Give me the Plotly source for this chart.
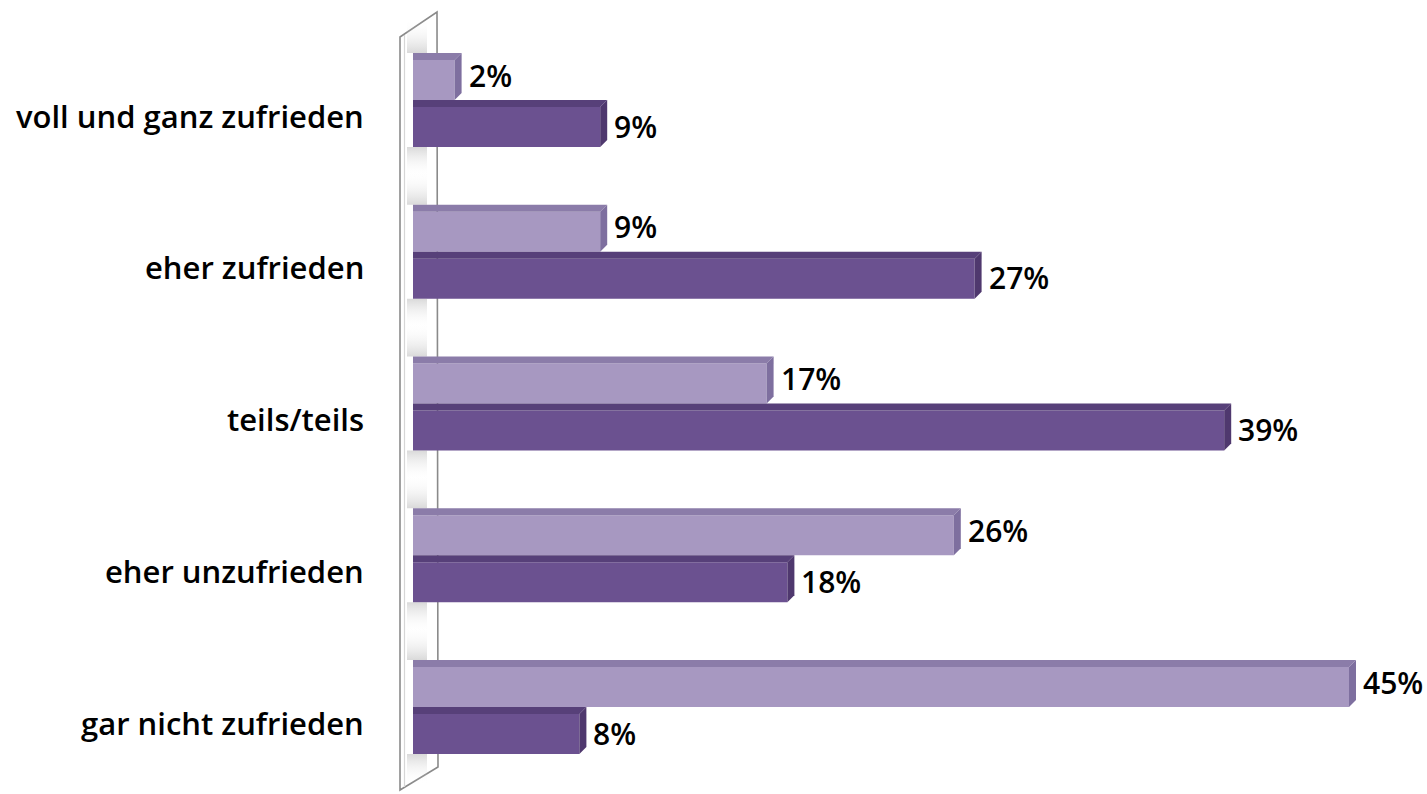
import plotly.graph_objects as go

# Survey answers (top to bottom) and the two series in percent
categories = ["voll und ganz zufrieden", "eher zufrieden", "teils/teils",
              "eher unzufrieden", "gar nicht zufrieden"]
series_light = [2, 9, 17, 26, 45]
series_dark = [9, 27, 39, 18, 8]

W, H = 1427, 794
PX_PER_PCT = 20.8      # horizontal scale
X_ORIGIN = 413         # pixel column of 0 %
ROW = 151.75           # pixels between category rows
Y_FIRST = 103.5        # pixel row of first category centre


def xd(px):
    return (px - X_ORIGIN) / PX_PER_PCT


def yd(py):
    return (py - Y_FIRST) / ROW


LIGHT = dict(front="#a798c1", top="#8b7ca9", side="#7e6f9f")
DARK = dict(front="#6b5190", top="#574079", side="#4f386e")

FRONT_H = 40 / ROW
GAP = 3.5 / ROW
DX = 7 / PX_PER_PCT
DY = 7 / ROW

pos = list(range(len(categories)))

fig = go.Figure()

# ---- back wall (3D panel on the left) ----
wall = [(400, 37), (437, 12), (438, 767), (400, 790)]
path = "M " + " L ".join(f"{xd(a)},{yd(b)}" for a, b in wall) + " Z"
shapes = [dict(type="path", path=path, xref="x", yref="y", layer="below",
               fillcolor="#ffffff", line=dict(color="#8a8a8a", width=1.6))]
shapes.append(dict(type="line", xref="x", yref="y", layer="below",
                   x0=xd(404.5), x1=xd(404.5), y0=yd(35), y1=yd(787),
                   line=dict(color="#d6d6d6", width=1.2)))

# soft shading on the wall around each pair of bars
SHADE = "rgba(150,150,150,0.36)"
CLEAR = "rgba(255,255,255,0)"
for p in pos:
    c_px = Y_FIRST + p * ROW
    top_px = c_px - 43.5 - 7
    bot_px = c_px + 43.5
    for (ya, yb, fade_up) in [(top_px - 34, top_px, True), (bot_px, bot_px + 30, False)]:
        if yb > H - 10:
            continue
        xs = [xd(407), xd(427), xd(427), xd(407), xd(407)]
        ys = [yd(ya), yd(ya), yd(yb), yd(yb), yd(ya)]
        fig.add_trace(go.Scatter(
            x=xs, y=ys, mode="lines", fill="toself", line=dict(width=0),
            hoverinfo="skip", showlegend=False,
            fillgradient=dict(type="vertical", start=yd(ya), stop=yd(yb),
                              colorscale=[[0, CLEAR if fade_up else SHADE],
                                          [1, SHADE if fade_up else CLEAR]])))

# ---- bar front faces ----
fig.add_trace(go.Bar(x=series_light, y=pos, orientation="h", width=FRONT_H,
                     offset=-(43.5 / ROW), marker=dict(color=LIGHT["front"], line=dict(width=0)),
                     showlegend=False, hoverinfo="x"))
fig.add_trace(go.Bar(x=series_dark, y=pos, orientation="h", width=FRONT_H,
                     offset=GAP, marker=dict(color=DARK["front"], line=dict(width=0)),
                     showlegend=False, hoverinfo="x"))


def faces(v, y_top, y_bot, col):
    top = (f"M 0,{y_top} L {v},{y_top} L {v + DX},{y_top - DY} "
           f"L 0,{y_top - DY} Z")
    side = (f"M {v},{y_top} L {v + DX},{y_top - DY} L {v + DX},{y_bot - DY} "
            f"L {v},{y_bot} Z")
    return [dict(type="path", path=top, xref="x", yref="y", layer="above",
                 fillcolor=col["top"], line=dict(width=0)),
            dict(type="path", path=side, xref="x", yref="y", layer="above",
                 fillcolor=col["side"], line=dict(width=0))]


annotations = []
label_font = dict(family="'Open Sans', 'Noto Sans', sans-serif", size=31,
                  color="#000000", weight=600)
value_font = dict(family="'Open Sans', 'Noto Sans', sans-serif", size=30,
                  color="#000000", weight=600)

for p, lv, dv in zip(pos, series_light, series_dark):
    l_top, l_bot = p - 43.5 / ROW, p - GAP
    d_top, d_bot = p + GAP, p + 43.5 / ROW
    shapes += faces(lv, l_top, l_bot, LIGHT)
    shapes += faces(dv, d_top, d_bot, DARK)
    for v, yt, yb, ys in [(lv, l_top, l_bot, 5), (dv, d_top, d_bot, 1)]:
        annotations.append(dict(x=v, y=(yt + yb) / 2, xref="x", yref="y",
                                text=f"{v}%", showarrow=False, xanchor="left",
                                yanchor="middle", xshift=DX * PX_PER_PCT + 5,
                                yshift=ys, font=value_font))

# category labels left of the wall
for p, name in zip(pos, categories):
    annotations.append(dict(x=xd(366), y=p + 12 / ROW, xref="x", yref="y",
                            text=name, showarrow=False, xanchor="right",
                            yanchor="middle", font=label_font))

fig.update_layout(
    width=W, height=H,
    margin=dict(l=0, r=0, t=0, b=0),
    paper_bgcolor="#ffffff", plot_bgcolor="#ffffff",
    barmode="overlay",
    shapes=shapes, annotations=annotations,
    xaxis=dict(range=[xd(0), xd(W)], visible=False, fixedrange=True),
    yaxis=dict(range=[yd(H), yd(0)], visible=False, fixedrange=True),
)

fig.write_html("out.html")
